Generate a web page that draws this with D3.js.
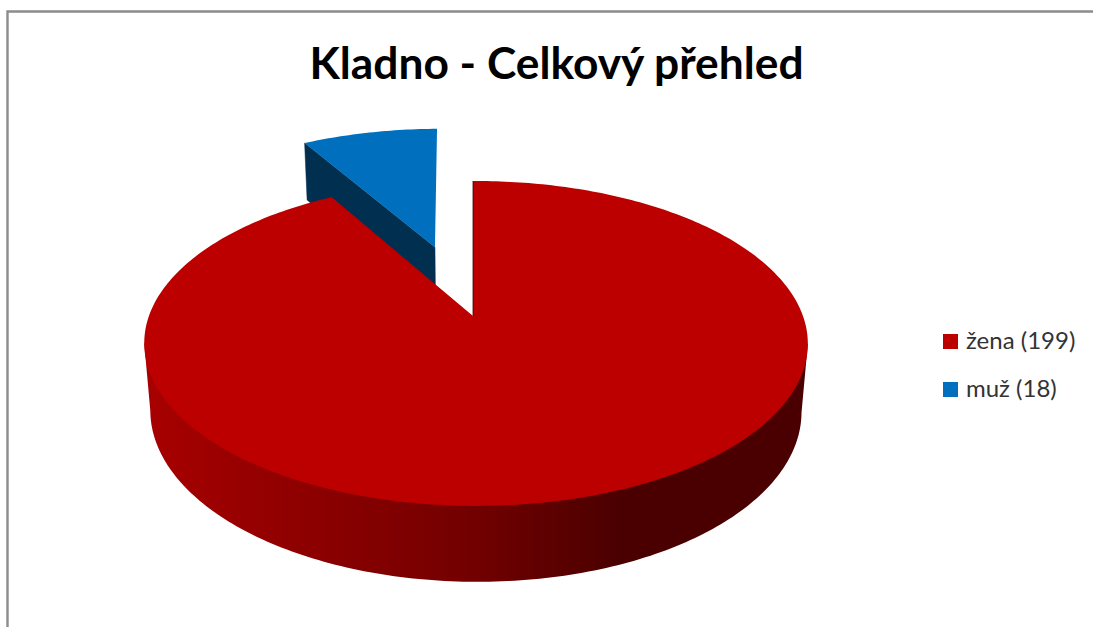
<!DOCTYPE html>
<html>
<head>
<meta charset="utf-8">
<script src="https://cdn.jsdelivr.net/npm/d3@7"></script>
<style>
  html, body { margin: 0; padding: 0; background: #fff; }
  svg { display: block; }
  text { font-family: Lato, "Noto Sans", sans-serif; }
</style>
</head>
<body>
<svg id="chart" width="1093" height="627"></svg>
<script>
const titleText = "Kladno - Celkový přehled";
const categories = ["žena", "muž"];
const counts = [199, 18];
const colors = ["#bc0000", "#006fbe"];
const sideColors = ["#a80000", "#720000", "#4a0000", "#4a0000"];
const blueSide = "#002f50";

const svg = d3.select("#chart");

// frame of the chart area, only top and left are in the crop
svg.append("path")
  .attr("d", "M7.5,627V11.5H1093")
  .attr("fill", "none")
  .attr("stroke", "#8c8c8c")
  .attr("stroke-width", 2.4);

svg.append("text")
  .attr("x", 556.5)
  .attr("y", 78.5)
  .attr("text-anchor", "middle")
  .attr("font-size", 44.3)
  .attr("font-weight", 700)
  .attr("fill", "#000")
  .text(titleText);

// perspective projection of the tilted disc
const cx = 473, cy = 316;
const tilt = 0.169, skew = -0.009;
const scaleX = 327, scaleY = 157.8;
const depth = 68, depthW = 0.0185;

function project(u, v, bottom) {
  const w = 1 + tilt * v + skew * u + (bottom ? depthW : 0);
  return [cx + scaleX * u / w, cy - (scaleY * v - (bottom ? depth : 0)) / w];
}

const pie = d3.pie().sort(null).value(d => d);
const arcs = pie(counts);

const line = d3.line();
function rim(a0, a1, off, bottom) {
  const n = Math.max(2, Math.ceil(Math.abs(a1 - a0) * 60));
  return d3.range(n + 1).map(i => {
    const a = a0 + (a1 - a0) * i / n;
    return project(off[0] + Math.sin(a), off[1] + Math.cos(a), bottom);
  });
}

// exploded slice moves out along its bisector
const explode = 0.488;
const offsets = arcs.map((d, i) => {
  if (i === 0) return [0, 0];
  const mid = (d.startAngle + d.endAngle) / 2;
  return [explode * Math.sin(mid), explode * Math.cos(mid)];
});

const defs = svg.append("defs");
const grad = defs.append("linearGradient")
  .attr("id", "sideGrad")
  .attr("gradientUnits", "userSpaceOnUse")
  .attr("x1", 144).attr("x2", 808).attr("y1", 0).attr("y2", 0);
[0, 0.5, 0.72, 1].forEach((o, i) => {
  grad.append("stop").attr("offset", o).attr("stop-color", sideColors[i]);
});

// blue slice, side face first. its rim sits a bit up and left of the apex
const blue = arcs[1], blueOff = offsets[1];
const blueRimOff = [blueOff[0] - 0.012, blueOff[1] + 0.014];
const blueCorner = [blueRimOff[0] + Math.sin(blue.startAngle), blueRimOff[1] + Math.cos(blue.startAngle)];
svg.append("path")
  .attr("fill", blueSide)
  .attr("stroke", blueSide)
  .attr("stroke-width", 0.5)
  .attr("d", line([
    project(blueOff[0], blueOff[1], false),
    project(blueCorner[0], blueCorner[1], false),
    project(blueCorner[0], blueCorner[1], true),
    project(blueOff[0], blueOff[1], true)
  ]) + "Z");

svg.append("path")
  .attr("fill", colors[1])
  .attr("d", line([project(blueOff[0], blueOff[1], false)]
    .concat(rim(blue.startAngle, blue.endAngle, blueRimOff, false))) + "Z");

// red slice: outer wall runs under the top so no seam shows
const wallFrom = Math.PI / 2 + 0.17, wallTo = 3 * Math.PI / 2 - 0.17;
const wallTop = rim(wallFrom, wallTo, [0, 0], false);
svg.append("path")
  .attr("fill", "url(#sideGrad)")
  .attr("d", line([project(0, 0, false), wallTop[0]]
    .concat(rim(wallFrom, wallTo, [0, 0], true))
    .concat([wallTop[wallTop.length - 1]])) + "Z");

const red = arcs[0];
svg.append("path")
  .attr("fill", colors[0])
  .attr("d", line([project(0, 0, false)]
    .concat(rim(red.startAngle, red.endAngle, [0, 0], false))) + "Z");

// cut face seen edge on
svg.append("path")
  .attr("stroke", "#3a0000")
  .attr("stroke-width", 0.8)
  .attr("fill", "none")
  .attr("d", line([project(0, 0, false), project(0, 1, false)]));

// legend
const legendY = d3.scalePoint().domain(categories).range([341, 389]);
const legend = svg.selectAll("g.legend").data(categories).join("g")
  .attr("class", "legend")
  .attr("transform", d => `translate(943,${legendY(d)})`);
legend.append("rect")
  .attr("x", 0).attr("y", -7)
  .attr("width", 15).attr("height", 15)
  .attr("fill", (d, i) => colors[i]);
legend.append("text")
  .attr("x", 23).attr("y", 8)
  .attr("font-size", 24)
  .attr("fill", "#333")
  .text((d, i) => `${d} (${counts[i]})`);
</script>
</body>
</html>
